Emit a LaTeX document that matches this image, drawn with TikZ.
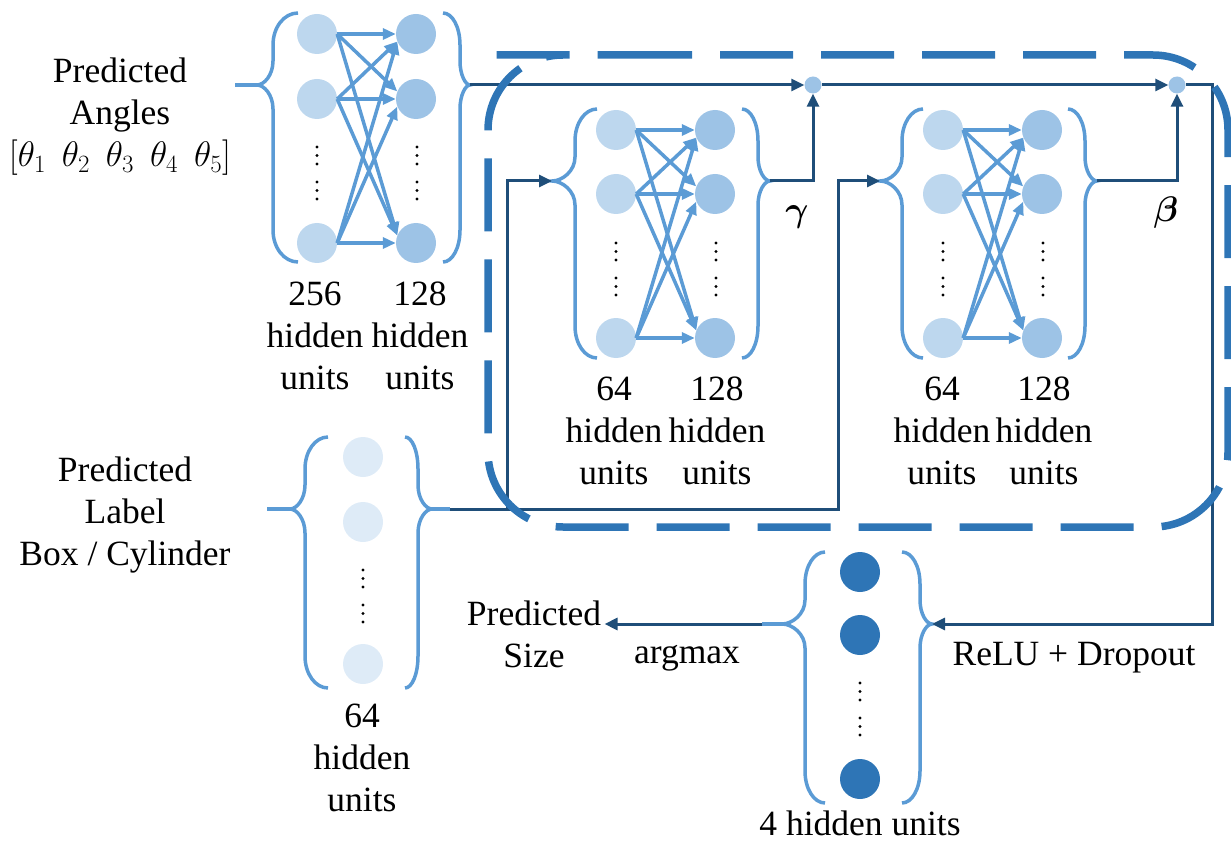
\RequirePackage{fix-cm}
\documentclass[tikz,border=0pt]{standalone}
\usepackage{amsmath}
\usepackage{bm}
\usepackage{fontspec}
\setmainfont{Liberation Serif}
\usetikzlibrary{arrows.meta,calc}

\definecolor{unitD}{HTML}{DEEBF7}
\definecolor{unitIn}{HTML}{BDD7EE}
\definecolor{unitOut}{HTML}{9DC3E6}
\definecolor{unitE}{HTML}{2E75B6}
\definecolor{wire}{HTML}{5B9BD5}
\definecolor{navy}{HTML}{1F4E79}
\definecolor{boxblue}{HTML}{2E75B6}

% curly brace: #1 end x, #2 stem x, #3 tip x, #4 top y, #5 tip y, #6 bottom y
\newcommand\netbrace[6]{%
  \draw[bracestyle] (#1,#4) .. controls ({#2+0.45*(#1-#2)},#4) and (#2,{#4+14}) .. (#2,{#4+32})
    -- (#2,{#5-24}) .. controls (#2,{#5-10}) and ({#3+0.45*(#2-#3)},#5) .. (#3,#5)
    .. controls ({#3+0.45*(#2-#3)},#5) and (#2,{#5+10}) .. (#2,{#5+24})
    -- (#2,{#6-32}) .. controls (#2,{#6-14}) and ({#2+0.45*(#1-#2)},#6) .. (#1,#6);}

% two stacks of three dots: #1 x, #2 y of the first dot
\newcommand\unitdots[2]{%
  \foreach \dd in {0,8.5,17,35,43.5,52} \fill ({#1},{#2+\dd}) circle (1.7pt);}

% fully connected pair of layers: #1 prefix, #2 left x, #3 right x, #4-#6 rows
\newcommand\twolayer[6]{%
  \node[unit,fill=unitIn] (#1l1) at (#2,#4) {};
  \node[unit,fill=unitIn] (#1l2) at (#2,#5) {};
  \node[unit,fill=unitIn] (#1l3) at (#2,#6) {};
  \node[unit,fill=unitOut] (#1r1) at (#3,#4) {};
  \node[unit,fill=unitOut] (#1r2) at (#3,#5) {};
  \node[unit,fill=unitOut] (#1r3) at (#3,#6) {};
  \foreach \i in {1,2,3}{\foreach \j in {1,2,3}{%
    \pgfmathtruncatemacro\ang{\i<\j ? 158 : (\i>\j ? 202 : 180)}%
    \draw[netarrow] (#1l\i.east) -- (#1r\j.\ang);}}}

\begin{document}
\begin{tikzpicture}[x=1pt,y=-1pt,
  unit/.style={circle,inner sep=0pt,minimum size=40pt},
  netarrow/.style={wire,line width=3.5pt,-{Triangle[length=13pt,width=11pt]}},
  bracestyle/.style={wire,line width=3.5pt},
  conn/.style={navy,line width=3pt},
  connarrow/.style={conn,-{Triangle[length=13pt,width=12pt]}},
  stub/.style={wire,line width=3.5pt},
  txt/.style={font=\fontsize{35.5}{42}\selectfont,align=center,anchor=base,inner sep=0.3333em},
  sumnode/.style={circle,fill=unitOut,inner sep=0pt,minimum size=17pt}]

\useasboundingbox (0,0) rectangle (1231,842);

% ---- angle branch: 256 -> 128
\twolayer{a}{317}{416}{34}{99}{243}
\netbrace{298}{273}{257}{13}{85}{262}
\netbrace{443}{460}{470}{13}{85}{262}
\unitdots{317}{147}
\unitdots{417}{147}

% ---- gamma branch: 64 -> 128
\twolayer{b}{616}{715}{130}{194}{338}
\netbrace{597}{575}{552}{109}{181}{358}
\netbrace{742}{758}{770}{109}{181}{358}
\unitdots{616}{243}
\unitdots{716}{243}

% ---- beta branch: 64 -> 128
\twolayer{c}{943}{1042}{130}{194}{338}
\netbrace{923}{902}{880}{109}{181}{358}
\netbrace{1068}{1085}{1097}{109}{181}{358}
\unitdots{943}{243}
\unitdots{1043}{243}

% ---- label embedding: 64 units
\node[unit,fill=unitD] (d1) at (363,457) {};
\node[unit,fill=unitD] (d2) at (363,522) {};
\node[unit,fill=unitD] (d3) at (363,664) {};
\netbrace{328}{305}{290}{437}{509}{688}
\netbrace{405}{418}{432}{437}{509}{688}
\unitdots{363}{570}

% ---- output layer: 4 units
\node[unit,fill=unitE] (e1) at (860,572) {};
\node[unit,fill=unitE] (e2) at (860,635) {};
\node[unit,fill=unitE] (e3) at (860,779) {};
\netbrace{825}{805}{782}{552}{624}{803}
\netbrace{902}{920}{932}{552}{624}{803}
\unitdots{860}{683}

% ---- brace tips and junctions
\coordinate (aIn) at (235,85);  \coordinate (aL) at (257,85);  \coordinate (aR) at (470,85);
\coordinate (bL) at (552,181);  \coordinate (bR) at (770,181);
\coordinate (cL) at (880,181);  \coordinate (cR) at (1097,181);
\coordinate (dIn) at (267,509); \coordinate (dL) at (290,509);
\coordinate (dR) at (432,509);  \coordinate (dOut) at (450,509);
\coordinate (eL) at (782,624);  \coordinate (eOut) at (762,624);  \coordinate (eR) at (932,624);
\coordinate (j1) at (507,509);  \coordinate (j2) at (838,509);   \coordinate (rt) at (1212,85);

\node[sumnode] (s1) at (813,85) {};
\node[sumnode] (s2) at (1177,85) {};

% ---- texts (multi-line nodes sit on the baseline of their last line)
\node[txt] (angles) at (120,167) {Predicted\\Angles\\$[\theta_1\hspace{0.45em}\theta_2\hspace{0.45em}\theta_3\hspace{0.45em}\theta_4\hspace{0.45em}\theta_5]$};
\node[txt] (la1) at (315,389) {256\\hidden\\units};
\node[txt] (la2) at (420,389) {128\\hidden\\units};
\node[txt] (lb1) at (614,484) {64\\hidden\\units};
\node[txt] (lb2) at (717,484) {128\\hidden\\units};
\node[txt] (lc1) at (942,484) {64\\hidden\\units};
\node[txt] (lc2) at (1044,484) {128\\hidden\\units};
\node[txt] (ld) at (362,811) {64\\hidden\\units};
\node[txt] (label) at (125,565) {Predicted\\Label\\Box / Cylinder};
\node[txt] (psize) at (534,667) {Predicted\\Size};
\node[txt] (argm) at (687,663) {argmax};
\node[txt] (relu) at (1074,665) {ReLU + Dropout};
\node[txt] (le) at (860,835) {4 hidden units};
\node[txt] (gam) at (797,222) {$\bm{\gamma}$};
\node[txt] (bet) at (1166,222) {$\bm{\beta}$};

% ---- connectors
\draw[stub] (aIn) -- (aL);
\draw[connarrow] (aR) -- (s1);
\draw[connarrow] (s1) -- (s2);
\draw[connarrow] (s2) -- (rt) |- (eR);
\draw[connarrow] (bR) -| (s1);
\draw[connarrow] (cR) -| (s2);
\draw[stub] (dIn) -- (dL);
\draw[stub] (dR) -- (dOut);
\draw[connarrow] (dOut) -- (j2) |- (cL);
\draw[connarrow] (j1) |- (bL);
\draw[stub] (eL) -- (eOut);
\draw[connarrow] (eOut) -- (psize.east |- eOut);

% ---- dashed frame around the two modulation branches
\draw[boxblue,line width=7.5pt,dash pattern=on 73pt off 28pt,dash phase=19pt,rounded corners=75pt]
  (563,55) -- (1228,55) -- (1228,527) -- (488,527) -- (488,55) -- cycle;
\end{tikzpicture}
\end{document}
